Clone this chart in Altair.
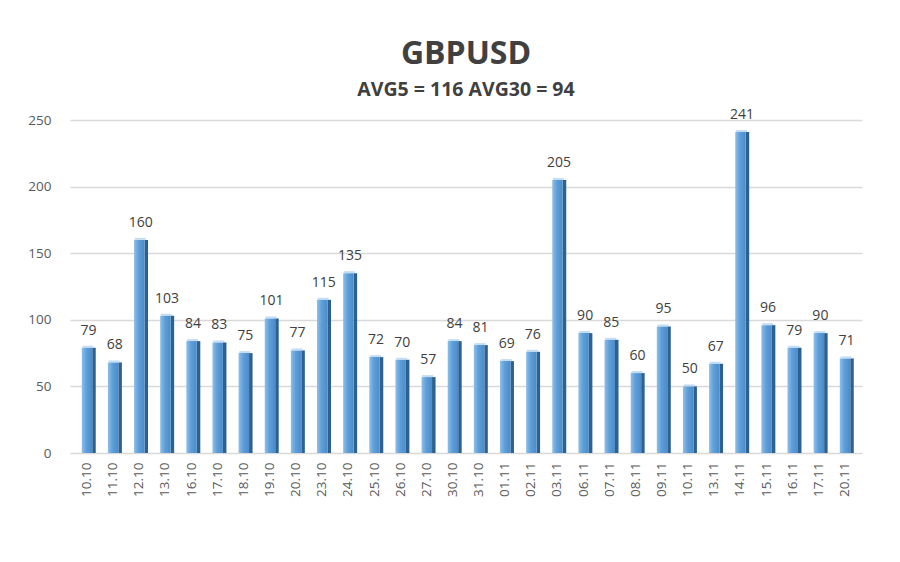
import altair as alt
import pandas as pd

dates = ["10.10", "11.10", "12.10", "13.10", "16.10", "17.10", "18.10", "19.10", "20.10", "23.10",
         "24.10", "25.10", "26.10", "27.10", "30.10", "31.10", "01.11", "02.11", "03.11", "06.11",
         "07.11", "08.11", "09.11", "10.11", "13.11", "14.11", "15.11", "16.11", "17.11", "20.11"]
values = [79, 68, 160, 103, 84, 83, 75, 101, 77, 115,
          135, 72, 70, 57, 84, 81, 69, 76, 205, 90,
          85, 60, 95, 50, 67, 241, 96, 79, 90, 71]
y_ticks = [0, 50, 100, 150, 200, 250]

df = pd.DataFrame({"date": dates, "value": values})

FONT = "Open Sans"
x_enc = alt.X("date:N", sort=dates,
              scale=alt.Scale(paddingInner=0.6, paddingOuter=0.45),
              axis=alt.Axis(title=None, labelAngle=-90, labelFont=FONT, labelFontSize=13.5,
                            labelColor="#595959", labelPadding=9, ticks=False, domain=False,
                            grid=False, labelBaseline="middle", labelAlign="right"))
y_enc = alt.Y("value:Q", scale=alt.Scale(domain=[0, 250], nice=False),
              axis=alt.Axis(title=None, values=y_ticks, labelFont=FONT, labelFontSize=13.5,
                            labelColor="#595959", labelPadding=19, ticks=False, domain=False,
                            gridColor="#D9D9D9", gridWidth=1.3))

base = alt.Chart(df).encode(x=x_enc, y=y_enc)

side = base.mark_bar(width=3.5, xOffset=7, color="#2D618F", cornerRadius=0)
front = base.mark_bar(
    color=alt.Gradient(
        gradient="linear",
        stops=[alt.GradientStop(color="#8EBFEA", offset=0),
               alt.GradientStop(color="#5E9ED8", offset=0.45),
               alt.GradientStop(color="#4B8BC9", offset=1)],
        x1=0, x2=1, y1=0, y2=0))
top = base.mark_tick(thickness=2, size=11, color="#A9CFF0", yOffset=-1, xOffset=1)
labels = base.mark_text(baseline="bottom", dy=-10, dx=1.5, font=FONT, fontSize=14,
                        color="#404040").encode(text="value:Q")

chart = alt.layer(side, front, top, labels).properties(
    width=792, height=333,
    background="white",
    padding={"left": 62, "top": 112, "right": 30, "bottom": 100},
    autosize=alt.AutoSizeParams(type="none"),
    title=alt.TitleParams("GBPUSD", subtitle="AVG5 = 116 AVG30 = 94",
                          font=FONT, fontSize=32, fontWeight="bold", color="#404040",
                          subtitleFont=FONT, subtitleFontSize=19.5, subtitleFontWeight="bold",
                          subtitleColor="#404040", subtitlePadding=10,
                          anchor="middle", offset=7),
).configure_view(stroke=None, strokeWidth=0)

chart.save("out.html", embed_options={"renderer": "svg", "actions": False})
